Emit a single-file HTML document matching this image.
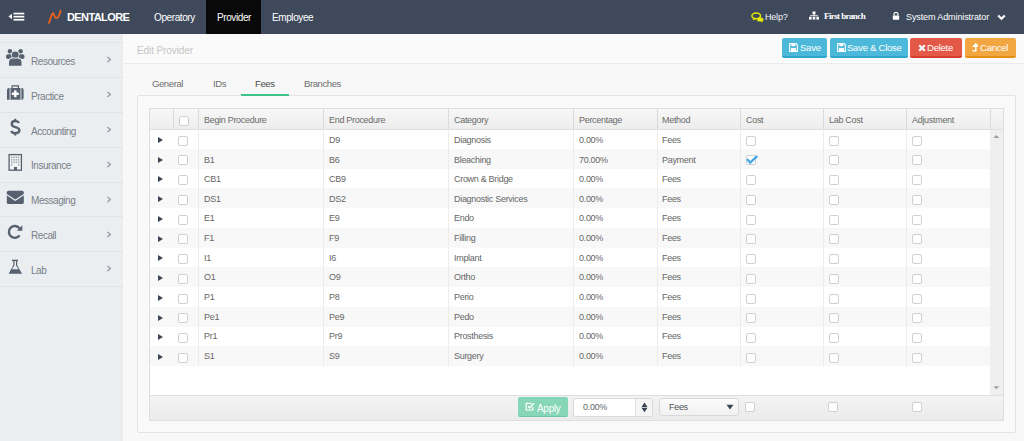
<!DOCTYPE html>
<html><head><meta charset="utf-8">
<style>
*{box-sizing:border-box;margin:0;padding:0}
html,body{width:1024px;height:441px;overflow:hidden;background:#f8f8f8;font-family:"Liberation Sans",sans-serif;color:#555;position:relative}
.a{position:absolute;white-space:nowrap}
.hdr{left:0;top:0;width:1024px;height:34px;background:#3e4a5c}
.ht{top:0;height:34px;line-height:35px;color:#fff;font-size:10px;letter-spacing:-0.4px}
.side{left:0;top:34px;width:123px;height:407px;background:#ebeef0}
.sep{left:0;width:123px;height:1px;background:#dfe3e6}
.st{left:31px;font-size:10px;color:#78808a;letter-spacing:-0.45px;line-height:12px;margin-top:1.5px}
.chev{left:106px;font-size:10px;color:#8a929b;line-height:12px;margin-top:1px}
.bar{left:123px;top:34px;width:901px;height:30px;background:#fafafa;border-bottom:1px solid #ebebeb}
.btn{top:38px;height:20px;border-radius:2px;color:#fff;font-size:9.6px;line-height:19px;letter-spacing:-0.3px}
.tab{top:78px;font-size:9.5px;line-height:12px;color:#6d6d6d;letter-spacing:-0.4px}
.panel{left:137px;top:95px;width:879px;height:338px;border:1px solid #e3e3e3;background:#f9f9f9;border-radius:2px}
.grid{left:149px;top:108px;width:855px;height:313px;border:1px solid #dedede;background:#fff}
.gh{left:149px;top:108px;width:855px;height:22px;background:linear-gradient(#f7f7f7,#ededed);border:1px solid #dedede}
.vl{width:1px;background:#dadada}
.vb{width:1px;background:#ececec}
.hc{top:114px;font-size:9px;line-height:12px;color:#6a6a6a;letter-spacing:-0.3px}
.row{left:150px;width:840px;height:20px}
.cell{font-size:9px;line-height:12px;color:#666;letter-spacing:-0.3px}
.cb{width:10px;height:10px;border:1px solid #d0d0d0;border-radius:2px;background:#fff}
.tri{width:0;height:0;border-left:5px solid #3d4654;border-top:3px solid transparent;border-bottom:3px solid transparent}
</style></head><body>
<div class="a hdr"></div>
<svg class="a" style="left:8px;top:12px" width="18" height="10" viewBox="0 0 18 10"><path d="M0.5 4.5 L4 1.8 L4 7.2 Z" fill="#fff"/><rect x="5.5" y="0.7" width="10.8" height="1.7" fill="#fff"/><rect x="5.5" y="3.8" width="10.8" height="1.7" fill="#fff"/><rect x="5.5" y="6.9" width="10.8" height="1.7" fill="#fff"/></svg>
<svg class="a" style="left:46px;top:8px" width="18" height="18" viewBox="0 0 18 18"><path d="M3 14.8 C4.6 11 5.6 5.2 7 5.2 C8.2 5.2 8 9.6 10.3 10 C12.6 10.3 13.8 5.5 14.5 2.8" fill="none" stroke="#e9601d" stroke-width="1.9" stroke-linecap="round" stroke-linejoin="round"/></svg>
<div class="a" style="left:67px;top:0;height:34px;line-height:34px;color:#fff;font-size:11px;font-weight:bold;letter-spacing:-0.6px">DENTALORE</div>
<div class="a ht" style="left:154px">Operatory</div>
<div class="a" style="left:206px;top:0;width:55px;height:34px;background:#090909"></div>
<div class="a ht" style="left:217px">Provider</div>
<div class="a ht" style="left:272px">Employee</div>
<svg class="a" style="left:751px;top:12px" width="14" height="11" viewBox="0 0 14 11"><ellipse cx="5.2" cy="3.8" rx="4.3" ry="2.9" fill="none" stroke="#e4e800" stroke-width="1.5"/><path d="M8.5 5.2 C11 5.2 12.6 6.3 12.6 7.6 C12.6 8.3 12.1 8.9 11.4 9.2 L12 10.6 L9.5 9.6 C7.8 9.7 6.3 9.1 5.7 8.2" fill="#e4e800"/><path d="M2.2 6 L1.8 8.5 L4.8 6.9 Z" fill="#e4e800"/></svg>
<div class="a ht" style="left:765px;font-size:9px;letter-spacing:-0.2px;color:#f4f4f8;line-height:34px">Help?</div>
<svg class="a" style="left:809px;top:11px" width="10" height="9" viewBox="0 0 10 9"><rect x="3.5" y="0.5" width="3" height="2.8" fill="#fff"/><rect x="4.6" y="3" width="0.8" height="1.8" fill="#fff"/><rect x="1" y="4.3" width="8" height="0.9" fill="#fff"/><rect x="0" y="5.8" width="2.6" height="2.8" fill="#fff"/><rect x="3.7" y="5.8" width="2.6" height="2.8" fill="#fff"/><rect x="7.4" y="5.8" width="2.6" height="2.8" fill="#fff"/></svg>
<div class="a" style="left:824px;top:0;height:34px;line-height:33px;color:#fff;font-size:9px;font-weight:bold;font-family:'Liberation Serif',serif;letter-spacing:-0.6px">First branch</div>
<svg class="a" style="left:892px;top:12px" width="8" height="8" viewBox="0 0 8 8"><path d="M2 3.5 V2.4 A2 2 0 0 1 6 2.4 V3.5" fill="none" stroke="#fff" stroke-width="1.2"/><rect x="0.8" y="3.5" width="6.4" height="4.2" rx="0.6" fill="#fff"/></svg>
<div class="a ht" style="left:906px;font-size:9px;letter-spacing:-0.1px;line-height:34px">System Administrator</div>
<svg class="a" style="left:997px;top:14px" width="9" height="7" viewBox="0 0 9 7"><path d="M1.2 1.5 L4.5 4.8 L7.8 1.5" fill="none" stroke="#fff" stroke-width="2.1"/></svg>

<div class="a side"></div>
<div class="a sep" style="top:42px"></div>
<div class="a sep" style="top:77px"></div>
<div class="a sep" style="top:112px"></div>
<div class="a sep" style="top:147px"></div>
<div class="a sep" style="top:182px"></div>
<div class="a sep" style="top:216px"></div>
<div class="a sep" style="top:251px"></div>
<div class="a sep" style="top:286px"></div>
<svg class="a" style="left:0;top:42px" width="30" height="245" viewBox="0 42 30 245">
<g fill="#56606e">
<circle cx="9.9" cy="51.3" r="2.25"/><circle cx="20.6" cy="51.3" r="2.25"/>
<rect x="6" y="54.2" width="6" height="4.8" rx="2"/><rect x="18.5" y="54.2" width="6" height="4.8" rx="2"/>
<circle cx="15.25" cy="55" r="4.1" fill="#ebeef0"/><circle cx="15.25" cy="55" r="3.4"/>
<path d="M8.2 65.8 V62.3 Q8.2 57.6 12.5 57.6 H18 Q22.3 57.6 22.3 62.3 V65.8 Z" fill="#ebeef0"/>
<path d="M9 65.7 V62.5 Q9 58.5 12.8 58.5 H17.7 Q21.5 58.5 21.5 62.5 V65.7 Z"/>
<path d="M11.5 88 V85.3 H19 V88 H17.8 V86.5 H12.7 V88 Z"/>
<path d="M7 88 H9.6 V99.7 H7 Q7 99.7 7 97.5 V90 Q7 88 9 88 Z"/>
<rect x="10.5" y="88" width="10" height="11.7"/>
<path d="M14.1 90.3 H16.5 V92.6 H18.8 V95 H16.5 V97.3 H14.1 V95 H11.8 V92.6 H14.1 Z" fill="#fff"/>
<path d="M21.4 88 H22 Q23.6 88 23.6 90 V97.7 Q23.6 99.7 22 99.7 H21.4 Z"/>
<path d="M15.3 118.8 V121 M15.3 133 V135.6" stroke="#56606e" stroke-width="2" fill="none"/>
<path d="M19 123 Q17.8 121 15.3 121 Q11.8 121 11.8 124 Q11.8 126.3 15.3 127.1 Q19.4 128 19.4 130.3 Q19.4 133.2 15.3 133.2 Q12.3 133.2 11.2 131" stroke="#56606e" stroke-width="2.4" fill="none" stroke-linecap="butt"/>
<rect x="9.1" y="154.6" width="12.3" height="15.6" fill="#f1f3f5" stroke="#56606e" stroke-width="1.3"/>
<g fill="#a3aab3"><rect x="11" y="156.5" width="1.4" height="1.6"/><rect x="13.3" y="156.5" width="1.4" height="1.6"/><rect x="15.6" y="156.5" width="1.4" height="1.6"/><rect x="17.9" y="156.5" width="1.4" height="1.6"/>
<rect x="11" y="159" width="1.4" height="1.6"/><rect x="13.3" y="159" width="1.4" height="1.6"/><rect x="15.6" y="159" width="1.4" height="1.6"/><rect x="17.9" y="159" width="1.4" height="1.6"/>
<rect x="11" y="161.5" width="1.4" height="1.6"/><rect x="13.3" y="161.5" width="1.4" height="1.6"/><rect x="15.6" y="161.5" width="1.4" height="1.6"/><rect x="17.9" y="161.5" width="1.4" height="1.6"/>
<rect x="11" y="164" width="1.4" height="1.6"/><rect x="17.9" y="164" width="1.4" height="1.6"/></g>
<rect x="14" y="167" width="3" height="3"/>
<rect x="6.8" y="190.8" width="17" height="13.3" rx="1.6"/>
<path d="M6.5 194.6 L15.25 200.2 L24 194.6" stroke="#ebeef0" stroke-width="1.2" fill="none"/>
<path d="M19.6 235.4 A5.9 5.9 0 1 1 19.4 228.2" stroke="#56606e" stroke-width="2.4" fill="none"/>
<path d="M16.8 230.8 H22.3 V225.3 Z"/>
<rect x="12" y="259.7" width="6" height="1.4"/>
<path d="M13.3 261 V265.2 L8.6 273.8 H22 L17.2 265.2 V261 H16 V265.6 L18.6 269.3 H11.9 L14.5 265.6 V261 Z"/>
</g></svg>
<div class="a st" style="top:54.2px">Resources</div><svg class="a" style="left:106px;top:56px" width="6" height="7" viewBox="0 0 6 7"><path d="M1.4 0.9 L4.4 3.5 L1.4 6.1" fill="none" stroke="#8a929b" stroke-width="1.15"/></svg>
<div class="a st" style="top:89.1px">Practice</div><svg class="a" style="left:106px;top:91px" width="6" height="7" viewBox="0 0 6 7"><path d="M1.4 0.9 L4.4 3.5 L1.4 6.1" fill="none" stroke="#8a929b" stroke-width="1.15"/></svg>
<div class="a st" style="top:124.0px">Accounting</div><svg class="a" style="left:106px;top:126px" width="6" height="7" viewBox="0 0 6 7"><path d="M1.4 0.9 L4.4 3.5 L1.4 6.1" fill="none" stroke="#8a929b" stroke-width="1.15"/></svg>
<div class="a st" style="top:158.9px">Insurance</div><svg class="a" style="left:106px;top:161px" width="6" height="7" viewBox="0 0 6 7"><path d="M1.4 0.9 L4.4 3.5 L1.4 6.1" fill="none" stroke="#8a929b" stroke-width="1.15"/></svg>
<div class="a st" style="top:193.8px">Messaging</div><svg class="a" style="left:106px;top:196px" width="6" height="7" viewBox="0 0 6 7"><path d="M1.4 0.9 L4.4 3.5 L1.4 6.1" fill="none" stroke="#8a929b" stroke-width="1.15"/></svg>
<div class="a st" style="top:228.7px">Recall</div><svg class="a" style="left:106px;top:231px" width="6" height="7" viewBox="0 0 6 7"><path d="M1.4 0.9 L4.4 3.5 L1.4 6.1" fill="none" stroke="#8a929b" stroke-width="1.15"/></svg>
<div class="a st" style="top:263.6px">Lab</div><svg class="a" style="left:106px;top:265px" width="6" height="7" viewBox="0 0 6 7"><path d="M1.4 0.9 L4.4 3.5 L1.4 6.1" fill="none" stroke="#8a929b" stroke-width="1.15"/></svg>

<div class="a bar"></div>
<div class="a" style="left:137px;top:44.5px;font-size:10px;line-height:12px;color:#c6c6c6;letter-spacing:-0.1px">Edit Provider</div>
<div class="a btn" style="left:782px;width:45px;background:#4db9da;border-bottom:2px solid #2fa5cc"><span style="position:absolute;left:18px">Save</span></div>
<div class="a btn" style="left:830px;width:78px;background:#4db9da;border-bottom:2px solid #2fa5cc"><span style="position:absolute;left:17px">Save &amp; Close</span></div>
<div class="a btn" style="left:910px;width:52px;background:#e35847;border-bottom:2px solid #d43d2b"><span style="position:absolute;left:17px">Delete</span></div>
<div class="a btn" style="left:965px;width:50.5px;background:#f2a641;border-bottom:2px solid #e58e17"><span style="position:absolute;left:15px">Cancel</span></div>
<svg class="a" style="left:789px;top:43px" width="9" height="9" viewBox="0 0 9 9"><path d="M0.6 0.6 H7 L8.4 2 V8.4 H0.6 Z" fill="none" stroke="#fff" stroke-width="1.1"/><rect x="2.3" y="0.6" width="4" height="2.6" fill="#fff"/><rect x="2" y="5" width="5" height="3.4" fill="#fff"/></svg>
<svg class="a" style="left:837px;top:43px" width="9" height="9" viewBox="0 0 9 9"><path d="M0.6 0.6 H7 L8.4 2 V8.4 H0.6 Z" fill="none" stroke="#fff" stroke-width="1.1"/><rect x="2.3" y="0.6" width="4" height="2.6" fill="#fff"/><rect x="2" y="5" width="5" height="3.4" fill="#fff"/></svg>
<svg class="a" style="left:918px;top:44px" width="8" height="8" viewBox="0 0 8 8"><path d="M1.2 1.2 L6.8 6.8 M6.8 1.2 L1.2 6.8" stroke="#fff" stroke-width="2.2"/></svg>
<svg class="a" style="left:972px;top:43px" width="6" height="9" viewBox="0 0 6 9"><path d="M3.8 8.5 V2 M1.6 3.3 L3.8 0.9 L6 3.3 Z M0.3 7.9 H3.8" stroke="#fff" stroke-width="1.4" fill="#fff"/></svg>
<div class="a tab" style="left:152px">General</div>
<div class="a tab" style="left:213px">IDs</div>
<div class="a tab" style="left:255px;color:#4a4a4a">Fees</div>
<div class="a tab" style="left:304px">Branches</div>
<div class="a panel"></div>
<div class="a" style="left:241px;top:94px;width:48px;height:2px;background:#3fc38c"></div>

<div class="a grid"></div>
<div class="a gh"></div>
<div class="a" style="left:990px;top:130px;width:13px;height:265px;background:#efefef"></div>
<!--ROWS-->
<div class="a row" style="top:148.75px;background:#f8f8f8"></div>
<div class="a row" style="top:188.25px;background:#f8f8f8"></div>
<div class="a row" style="top:227.75px;background:#f8f8f8"></div>
<div class="a row" style="top:267.25px;background:#f8f8f8"></div>
<div class="a row" style="top:306.75px;background:#f8f8f8"></div>
<div class="a row" style="top:346.25px;background:#f8f8f8"></div>
<div class="a vb" style="left:198px;top:129px;height:237.00px"></div>
<div class="a vb" style="left:323px;top:129px;height:237.00px"></div>
<div class="a vb" style="left:448px;top:129px;height:237.00px"></div>
<div class="a vb" style="left:573px;top:129px;height:237.00px"></div>
<div class="a vb" style="left:657px;top:129px;height:237.00px"></div>
<div class="a vb" style="left:740px;top:129px;height:237.00px"></div>
<div class="a vb" style="left:823px;top:129px;height:237.00px"></div>
<div class="a vb" style="left:906px;top:129px;height:237.00px"></div>
<div class="a vl" style="left:173px;top:109px;height:20px"></div>
<div class="a vl" style="left:198px;top:109px;height:20px"></div>
<div class="a vl" style="left:323px;top:109px;height:20px"></div>
<div class="a vl" style="left:448px;top:109px;height:20px"></div>
<div class="a vl" style="left:573px;top:109px;height:20px"></div>
<div class="a vl" style="left:657px;top:109px;height:20px"></div>
<div class="a vl" style="left:740px;top:109px;height:20px"></div>
<div class="a vl" style="left:823px;top:109px;height:20px"></div>
<div class="a vl" style="left:906px;top:109px;height:20px"></div>
<div class="a vl" style="left:990px;top:109px;height:20px"></div>
<div class="a hc" style="left:204px">Begin Procedure</div>
<div class="a hc" style="left:329px">End Procedure</div>
<div class="a hc" style="left:454px">Category</div>
<div class="a hc" style="left:579px">Percentage</div>
<div class="a hc" style="left:662px">Method</div>
<div class="a hc" style="left:746px">Cost</div>
<div class="a hc" style="left:829px">Lab Cost</div>
<div class="a hc" style="left:912px">Adjustment</div>
<div class="a cb" style="left:179px;top:116px"></div>
<div class="a tri" style="left:158.2px;top:136.88px"></div>
<div class="a cb" style="left:178px;top:135.68px"></div>
<div class="a cell" style="left:329px;top:133.90px">D9</div>
<div class="a cell" style="left:454px;top:133.90px">Diagnosis</div>
<div class="a cell" style="left:579px;top:133.90px">0.00%</div>
<div class="a cell" style="left:662px;top:133.90px">Fees</div>
<div class="a cb" style="left:746px;top:135.68px"></div>
<div class="a cb" style="left:829px;top:135.68px"></div>
<div class="a cb" style="left:912px;top:135.68px"></div>
<div class="a tri" style="left:158.2px;top:156.62px"></div>
<div class="a cb" style="left:178px;top:155.43px"></div>
<div class="a cell" style="left:204px;top:153.53px">B1</div>
<div class="a cell" style="left:329px;top:153.53px">B6</div>
<div class="a cell" style="left:454px;top:153.53px">Bleaching</div>
<div class="a cell" style="left:579px;top:153.53px">70.00%</div>
<div class="a cell" style="left:662px;top:153.53px">Payment</div>
<div class="a cb" style="left:746px;top:155.43px"></div>
<div class="a cb" style="left:829px;top:155.43px"></div>
<div class="a cb" style="left:912px;top:155.43px"></div>
<svg class="a" style="left:745.5px;top:155.03px" width="13" height="10" viewBox="0 0 13 10"><path d="M1.6 4.8 L4.2 7.6 L10.6 1.6" fill="none" stroke="#4aa8e6" stroke-width="2.4" stroke-linecap="round" stroke-linejoin="round"/></svg>
<div class="a tri" style="left:158.2px;top:176.38px"></div>
<div class="a cb" style="left:178px;top:175.18px"></div>
<div class="a cell" style="left:204px;top:173.16px">CB1</div>
<div class="a cell" style="left:329px;top:173.16px">CB9</div>
<div class="a cell" style="left:454px;top:173.16px">Crown &amp; Bridge</div>
<div class="a cell" style="left:579px;top:173.16px">0.00%</div>
<div class="a cell" style="left:662px;top:173.16px">Fees</div>
<div class="a cb" style="left:746px;top:175.18px"></div>
<div class="a cb" style="left:829px;top:175.18px"></div>
<div class="a cb" style="left:912px;top:175.18px"></div>
<div class="a tri" style="left:158.2px;top:196.12px"></div>
<div class="a cb" style="left:178px;top:194.93px"></div>
<div class="a cell" style="left:204px;top:192.79px">DS1</div>
<div class="a cell" style="left:329px;top:192.79px">DS2</div>
<div class="a cell" style="left:454px;top:192.79px">Diagnostic Services</div>
<div class="a cell" style="left:579px;top:192.79px">0.00%</div>
<div class="a cell" style="left:662px;top:192.79px">Fees</div>
<div class="a cb" style="left:746px;top:194.93px"></div>
<div class="a cb" style="left:829px;top:194.93px"></div>
<div class="a cb" style="left:912px;top:194.93px"></div>
<div class="a tri" style="left:158.2px;top:215.88px"></div>
<div class="a cb" style="left:178px;top:214.68px"></div>
<div class="a cell" style="left:204px;top:212.42px">E1</div>
<div class="a cell" style="left:329px;top:212.42px">E9</div>
<div class="a cell" style="left:454px;top:212.42px">Endo</div>
<div class="a cell" style="left:579px;top:212.42px">0.00%</div>
<div class="a cell" style="left:662px;top:212.42px">Fees</div>
<div class="a cb" style="left:746px;top:214.68px"></div>
<div class="a cb" style="left:829px;top:214.68px"></div>
<div class="a cb" style="left:912px;top:214.68px"></div>
<div class="a tri" style="left:158.2px;top:235.62px"></div>
<div class="a cb" style="left:178px;top:234.43px"></div>
<div class="a cell" style="left:204px;top:232.05px">F1</div>
<div class="a cell" style="left:329px;top:232.05px">F9</div>
<div class="a cell" style="left:454px;top:232.05px">Filling</div>
<div class="a cell" style="left:579px;top:232.05px">0.00%</div>
<div class="a cell" style="left:662px;top:232.05px">Fees</div>
<div class="a cb" style="left:746px;top:234.43px"></div>
<div class="a cb" style="left:829px;top:234.43px"></div>
<div class="a cb" style="left:912px;top:234.43px"></div>
<div class="a tri" style="left:158.2px;top:255.38px"></div>
<div class="a cb" style="left:178px;top:254.18px"></div>
<div class="a cell" style="left:204px;top:251.68px">I1</div>
<div class="a cell" style="left:329px;top:251.68px">I6</div>
<div class="a cell" style="left:454px;top:251.68px">Implant</div>
<div class="a cell" style="left:579px;top:251.68px">0.00%</div>
<div class="a cell" style="left:662px;top:251.68px">Fees</div>
<div class="a cb" style="left:746px;top:254.18px"></div>
<div class="a cb" style="left:829px;top:254.18px"></div>
<div class="a cb" style="left:912px;top:254.18px"></div>
<div class="a tri" style="left:158.2px;top:275.12px"></div>
<div class="a cb" style="left:178px;top:273.93px"></div>
<div class="a cell" style="left:204px;top:271.31px">O1</div>
<div class="a cell" style="left:329px;top:271.31px">O9</div>
<div class="a cell" style="left:454px;top:271.31px">Ortho</div>
<div class="a cell" style="left:579px;top:271.31px">0.00%</div>
<div class="a cell" style="left:662px;top:271.31px">Fees</div>
<div class="a cb" style="left:746px;top:273.93px"></div>
<div class="a cb" style="left:829px;top:273.93px"></div>
<div class="a cb" style="left:912px;top:273.93px"></div>
<div class="a tri" style="left:158.2px;top:294.88px"></div>
<div class="a cb" style="left:178px;top:293.68px"></div>
<div class="a cell" style="left:204px;top:290.94px">P1</div>
<div class="a cell" style="left:329px;top:290.94px">P8</div>
<div class="a cell" style="left:454px;top:290.94px">Perio</div>
<div class="a cell" style="left:579px;top:290.94px">0.00%</div>
<div class="a cell" style="left:662px;top:290.94px">Fees</div>
<div class="a cb" style="left:746px;top:293.68px"></div>
<div class="a cb" style="left:829px;top:293.68px"></div>
<div class="a cb" style="left:912px;top:293.68px"></div>
<div class="a tri" style="left:158.2px;top:314.62px"></div>
<div class="a cb" style="left:178px;top:313.43px"></div>
<div class="a cell" style="left:204px;top:310.57px">Pe1</div>
<div class="a cell" style="left:329px;top:310.57px">Pe9</div>
<div class="a cell" style="left:454px;top:310.57px">Pedo</div>
<div class="a cell" style="left:579px;top:310.57px">0.00%</div>
<div class="a cell" style="left:662px;top:310.57px">Fees</div>
<div class="a cb" style="left:746px;top:313.43px"></div>
<div class="a cb" style="left:829px;top:313.43px"></div>
<div class="a cb" style="left:912px;top:313.43px"></div>
<div class="a tri" style="left:158.2px;top:334.38px"></div>
<div class="a cb" style="left:178px;top:333.18px"></div>
<div class="a cell" style="left:204px;top:330.20px">Pr1</div>
<div class="a cell" style="left:329px;top:330.20px">Pr9</div>
<div class="a cell" style="left:454px;top:330.20px">Prosthesis</div>
<div class="a cell" style="left:579px;top:330.20px">0.00%</div>
<div class="a cell" style="left:662px;top:330.20px">Fees</div>
<div class="a cb" style="left:746px;top:333.18px"></div>
<div class="a cb" style="left:829px;top:333.18px"></div>
<div class="a cb" style="left:912px;top:333.18px"></div>
<div class="a tri" style="left:158.2px;top:354.12px"></div>
<div class="a cb" style="left:178px;top:352.93px"></div>
<div class="a cell" style="left:204px;top:349.83px">S1</div>
<div class="a cell" style="left:329px;top:349.83px">S9</div>
<div class="a cell" style="left:454px;top:349.83px">Surgery</div>
<div class="a cell" style="left:579px;top:349.83px">0.00%</div>
<div class="a cell" style="left:662px;top:349.83px">Fees</div>
<div class="a cb" style="left:746px;top:352.93px"></div>
<div class="a cb" style="left:829px;top:352.93px"></div>
<div class="a cb" style="left:912px;top:352.93px"></div>
<!--/ROWS-->
<div class="a" style="left:149px;top:395px;width:855px;height:26px;background:linear-gradient(#f3f3f3,#ebebeb);border:1px solid #dedede"></div>
<svg class="a" style="left:993px;top:134px" width="7" height="5" viewBox="0 0 7 5"><path d="M0.3 3.9 L3.3 1 L6.3 3.9 Z" fill="#a0a0a0"/></svg>
<svg class="a" style="left:993px;top:385px" width="7" height="5" viewBox="0 0 7 5"><path d="M0.3 1.2 L3.3 4.2 L6.3 1.2 Z" fill="#a0a0a0"/></svg>
<div class="a" style="left:518px;top:397px;width:50px;height:20px;background:#86d6b7;border-radius:2px;border-bottom:1px solid #6cc9a4"></div>
<svg class="a" style="left:525px;top:402px" width="10" height="9" viewBox="0 0 10 9"><path d="M6.5 1.3 H1.2 V8 H7.8 V5" fill="none" stroke="#fff" stroke-width="1.2"/><path d="M3 4.2 L4.6 5.8 L9 1.2" fill="none" stroke="#fff" stroke-width="1.5"/></svg>
<div class="a" style="left:537px;top:399px;line-height:20px;font-size:10px;color:#fff;letter-spacing:-0.3px">Apply</div>
<div class="a" style="left:573px;top:398px;width:80px;height:19px;background:#fff;border:1px solid #d9d9d9;border-radius:3px"></div>
<div class="a" style="left:635px;top:399px;width:17px;height:17px;background:#f5f5f5;border-left:1px solid #dedede;border-radius:0 2px 2px 0"></div>
<svg class="a" style="left:641px;top:402px" width="7" height="11" viewBox="0 0 7 11"><path d="M0.5 5.1 L3.5 0.6 L6.5 5.1 Z M0.5 5.7 L3.5 10.2 L6.5 5.7 Z" fill="#3a4452"/></svg>
<div class="a cell" style="left:583px;top:401px">0.00%</div>
<div class="a" style="left:659px;top:398px;width:80px;height:18px;background:linear-gradient(#fbfbfb,#f1f1f1);border:1px solid #d9d9d9;border-radius:3px"></div>
<div class="a cell" style="left:669px;top:401px;color:#555">Fees</div>
<svg class="a" style="left:726px;top:404px" width="8" height="6" viewBox="0 0 8 6"><path d="M0.5 0.8 L7.5 0.8 L4 5.5 Z" fill="#3a4452"/></svg>
<div class="a cb" style="left:744.5px;top:402px"></div>
<div class="a cb" style="left:828px;top:402px"></div>
<div class="a cb" style="left:912px;top:402px"></div>
</body></html>
